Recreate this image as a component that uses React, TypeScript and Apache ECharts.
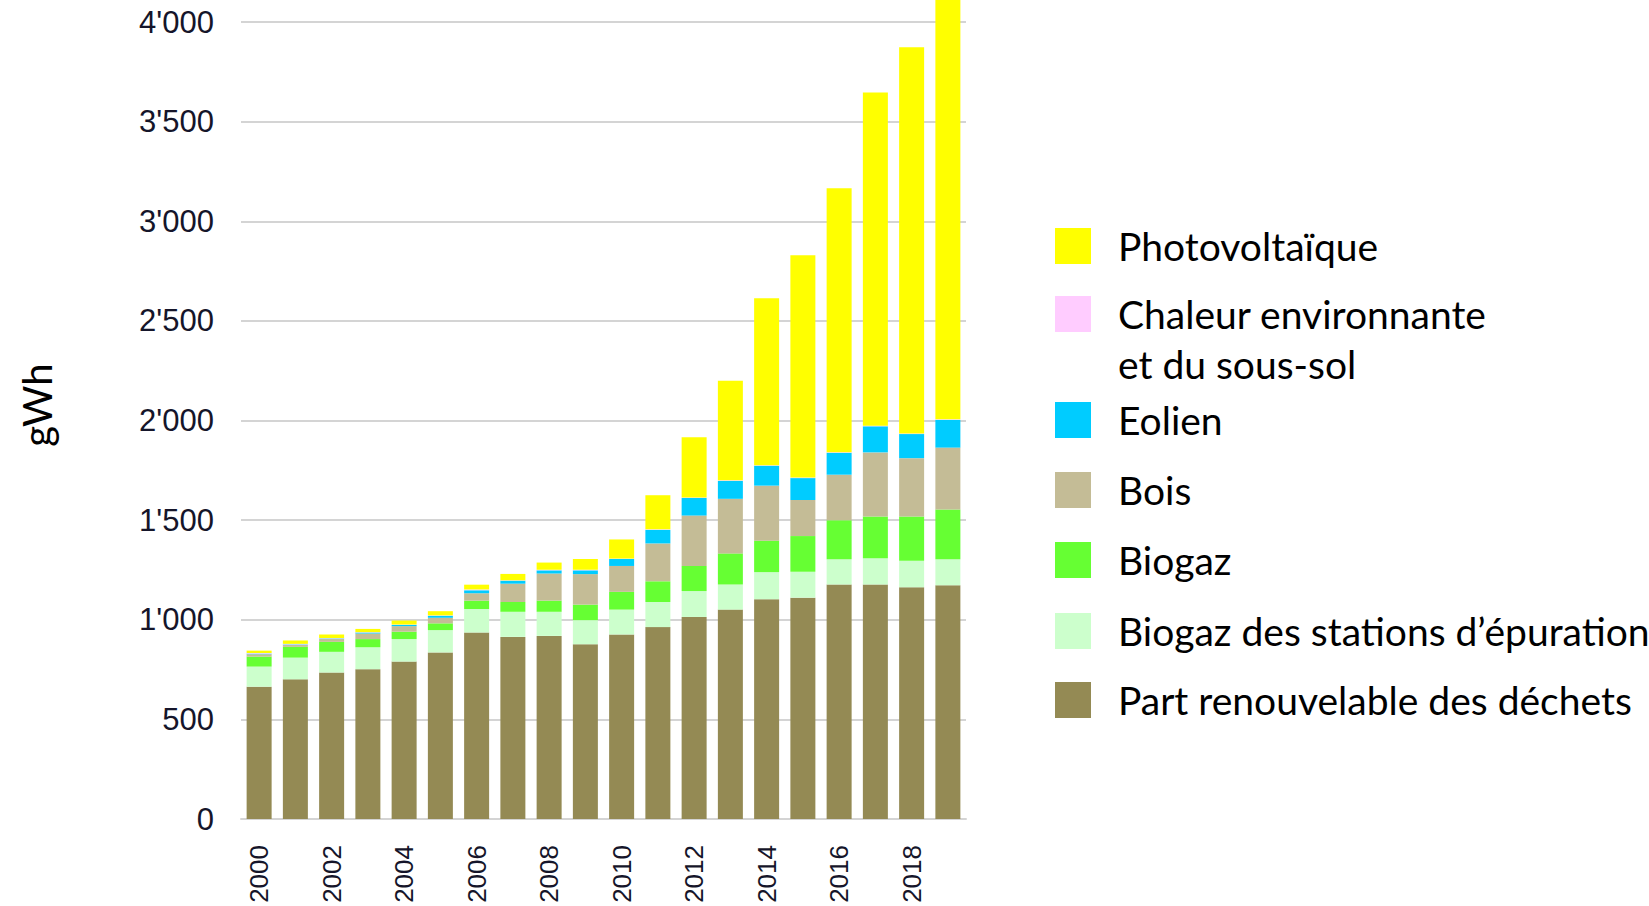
import React, { useEffect, useRef } from "react";
import * as echarts from "echarts";

const years = ["2000", "2001", "2002", "2003", "2004", "2005", "2006", "2007", "2008", "2009", "2010", "2011", "2012", "2013", "2014", "2015", "2016", "2017", "2018", "2019"];
const dechets = [664, 701, 735, 752, 790, 836, 936, 914, 919, 877, 926, 963, 1014, 1051, 1103, 1111, 1177, 1177, 1163, 1173];
const biogazStep = [101, 109, 104, 110, 113, 112, 118, 126, 121, 121, 125, 126, 130, 126, 136, 130, 127, 132, 133, 131];
const biogaz = [50, 54, 50, 41, 37, 34, 42, 49, 56, 78, 89, 104, 126, 156, 158, 179, 196, 209, 222, 249];
const bois = [12, 9, 14, 28, 28, 28, 37, 92, 136, 153, 130, 190, 253, 274, 276, 181, 228, 322, 293, 311];
const eolien = [3, 3, 3, 5, 6, 10, 15, 15, 16, 19, 35, 68, 88, 90, 100, 110, 110, 131, 121, 139];
const chaleur = [3, 3, 2, 2, 2, 2, 4, 2, 3, 3, 2, 3, 3, 3, 2, 3, 3, 3, 3, 3];
const photovoltaique = [12, 17, 18, 16, 20, 21, 24, 32, 36, 54, 96, 171, 302, 500, 838, 1115, 1325, 1672, 1938, 2178];

const yTicks = [0, 500, 1000, 1500, 2000, 2500, 3000, 3500, 4000];
const unitLabel = "gWh";

// stack order, bottom to top
const seriesDefs = [
  { name: "Part renouvelable des déchets", data: dechets, color: "#948A54" },
  { name: "Biogaz des stations d’épuration", data: biogazStep, color: "#CCFFCC" },
  { name: "Biogaz", data: biogaz, color: "#66FF33" },
  { name: "Bois", data: bois, color: "#C4BC96" },
  { name: "Eolien", data: eolien, color: "#00CCFF" },
  { name: "Chaleur environnante\net du sous-sol", data: chaleur, color: "#FFCCFF" },
  { name: "Photovoltaïque", data: photovoltaique, color: "#FFFF00" },
];

// legend row centres (top to bottom)
const legendRowY = [246, 314, 420, 490, 560, 631, 700];

function fmt(v: number): string {
  const s = String(Math.round(v));
  if (s.length <= 3) return s;
  return s.slice(0, s.length - 3) + "'" + s.slice(s.length - 3);
}

export default function App() {
  const ref = useRef<HTMLDivElement>(null);
  useEffect(() => {
    if (!ref.current) return;
    const chart = echarts.init(ref.current, null, { renderer: "svg" });
    const legendItems = [...seriesDefs].reverse();
    const graphics: any[] = [];
    legendItems.forEach((s, i) => {
      const cy = legendRowY[i];
      graphics.push({
        type: "rect",
        shape: { x: 1055, y: cy - 18, width: 36, height: 36 },
        style: { fill: s.color },
        silent: true,
      });
      graphics.push({
        type: "text",
        x: 1118,
        y: cy - 25,
        style: {
          text: s.name,
          font: "39px Lato",
          fill: "#000",
          lineHeight: 50,
          verticalAlign: "top",
          align: "left",
        },
        silent: true,
      });
    });
    graphics.push({
      type: "text",
      x: 37,
      y: 405,
      rotation: Math.PI / 2,
      style: {
        text: unitLabel,
        font: "40px Lato",
        fill: "#000",
        align: "center",
        verticalAlign: "middle",
      },
      silent: true,
    });

    chart.setOption({
      animation: false,
      backgroundColor: "#fff",
      grid: { left: 241, right: 683, top: 22, bottom: 87, containLabel: false },
      xAxis: {
        type: "category",
        data: years,
        axisLine: { show: true, lineStyle: { color: "#d4d4d4", width: 2 } },
        axisTick: { show: false },
        axisLabel: {
          interval: 1,
          rotate: 90,
          margin: 26,
          color: "#15152a",
          fontFamily: "Liberation Sans",
          fontSize: 26,
        },
      },
      yAxis: {
        type: "value",
        min: 0,
        max: 4000,
        interval: 500,
        axisLine: { show: false },
        axisTick: { show: false },
        splitLine: { show: true, lineStyle: { color: "#d4d4d4", width: 2 } },
        axisLabel: {
          margin: 27,
          color: "#15152a",
          fontFamily: "Liberation Sans",
          fontSize: 31,
          formatter: (v: number) => (yTicks.includes(v) ? fmt(v) : ""),
        },
      },
      series: seriesDefs.map((s) => ({
        name: s.name,
        type: "bar",
        stack: "total",
        data: s.data,
        barWidth: 25,
        clip: false,
        itemStyle: { color: s.color },
        emphasis: { disabled: true },
      })),
      graphic: graphics,
    });
    return () => chart.dispose();
  }, []);
  return (
    <div
      ref={ref}
      style={{ position: "fixed", left: 0, top: 0, width: 1649, height: 906, background: "#fff" }}
    />
  );
}
